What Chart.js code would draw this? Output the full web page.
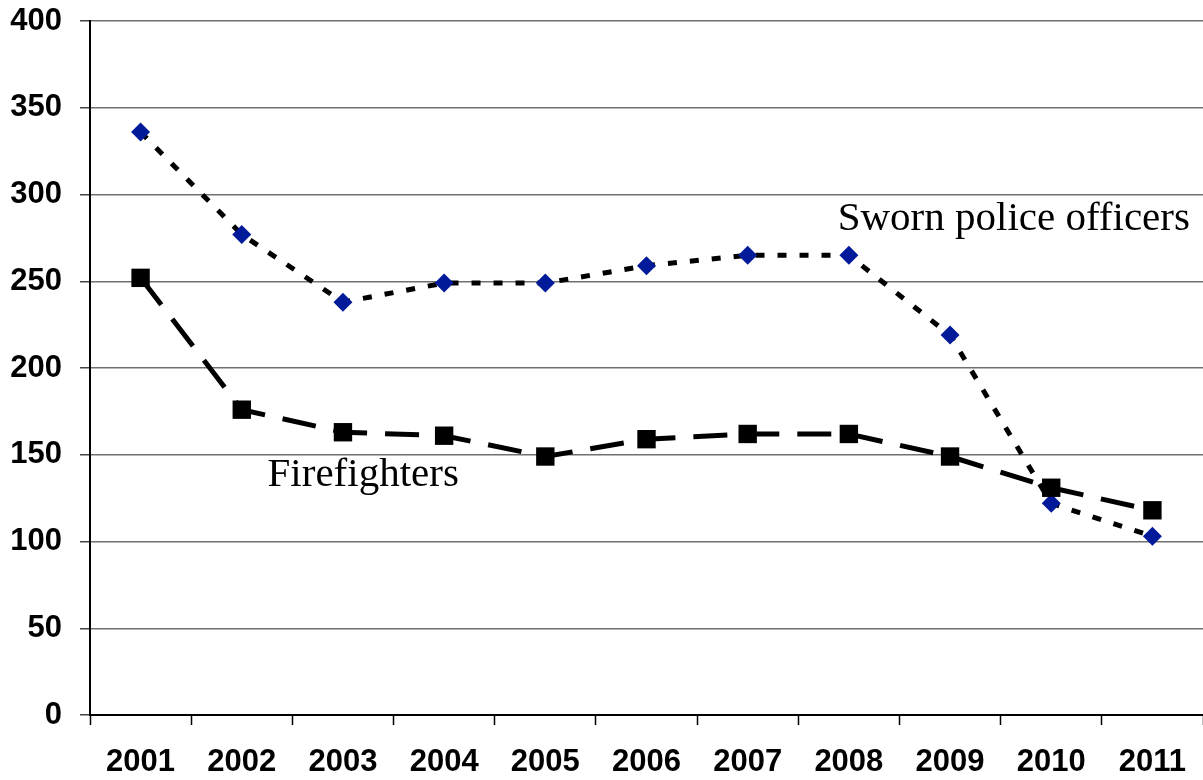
<!DOCTYPE html>
<html>
<head>
<meta charset="utf-8">
<script src="https://cdn.jsdelivr.net/npm/chart.js@4.4.0/dist/chart.umd.min.js"></script>
<style>
  html, body { margin: 0; padding: 0; background: #fff; overflow: hidden; }
  #wrap { width: 1203px; height: 780px; position: relative; }
  canvas { display: block; }
</style>
</head>
<body>
<div id="wrap"><canvas id="chart"></canvas></div>
<script>
// Years on the x axis
const years = ['2001', '2002', '2003', '2004', '2005', '2006', '2007', '2008', '2009', '2010', '2011'];

// Series values
const policeOfficers = [336, 277, 238, 249, 249, 259, 265, 265, 219, 122, 103];
const firefighters = [252, 176, 163, 161, 149, 159, 162, 162, 149, 131, 118];

// Y axis ticks
const yTicks = [0, 50, 100, 150, 200, 250, 300, 350, 400];

// In-plot series labels: category position (index) and value
const seriesLabels = [
  { text: 'Sworn police officers', index: 8.63, value: 286 },
  { text: 'Firefighters', index: 2.2, value: 138 }
];

// Draws the text labels inside the plot, placed through the scales
const seriesLabelPlugin = {
  id: 'seriesLabels',
  afterDatasetsDraw(chart) {
    const { ctx, scales } = chart;
    ctx.save();
    ctx.font = '41px "Liberation Serif", serif';
    ctx.fillStyle = '#000';
    ctx.textAlign = 'center';
    ctx.textBaseline = 'middle';
    seriesLabels.forEach(l => {
      ctx.fillText(l.text, scales.x.getPixelForValue(l.index), scales.y.getPixelForValue(l.value));
    });
    ctx.restore();
  }
};

const tickFont = { family: '"Liberation Sans", Arial, sans-serif', size: 31, weight: 'bold' };

new Chart(document.getElementById('chart'), {
  type: 'line',
  data: {
    labels: years,
    datasets: [
      {
        label: 'Firefighters',
        data: firefighters,
        borderColor: '#000',
        borderWidth: 5,
        borderDash: [34, 18],
        pointStyle: 'rect',
        pointRadius: 13,
        pointBackgroundColor: '#000',
        pointBorderColor: '#000',
        pointBorderWidth: 0,
        tension: 0
      },
      {
        label: 'Sworn police officers',
        data: policeOfficers,
        borderColor: '#000',
        borderWidth: 5,
        borderDash: [9, 13],
        pointStyle: 'rectRot',
        pointRadius: 9.5,
        pointBackgroundColor: '#001a99',
        pointBorderColor: '#001a99',
        pointBorderWidth: 0,
        tension: 0
      }
    ]
  },
  options: {
    responsive: true,
    maintainAspectRatio: false,
    animation: false,
    layout: { padding: { top: 0, left: 0, bottom: 0, right: -7 }, autoPadding: false },
    plugins: {
      legend: { display: false },
      tooltip: { enabled: false }
    },
    scales: {
      x: {
        type: 'category',
        offset: true,
        grid: {
          offset: true,
          drawOnChartArea: false,
          color: '#000',
          tickLength: 10,
          tickWidth: 1.5
        },
        border: { color: '#000', width: 2 },
        ticks: { font: tickFont, color: '#000', padding: 19, maxRotation: 0 },
        afterFit(axis) {
          axis.height = 65;
          axis.paddingLeft = 0;
          axis.paddingRight = 0;
        }
      },
      y: {
        min: 0,
        max: 400,
        afterBuildTicks(axis) { axis.ticks = yTicks.map(v => ({ value: v })); },
        grid: {
          color: '#707070',
          lineWidth: 1.5,
          tickLength: 10,
          tickColor: '#444'
        },
        border: { color: '#000', width: 2 },
        ticks: { font: { ...tickFont, lineHeight: 0.2 }, color: '#000', padding: 18 },
        afterFit(axis) { axis.width = 90; }
      }
    }
  },
  plugins: [seriesLabelPlugin]
});
</script>
</body>
</html>
